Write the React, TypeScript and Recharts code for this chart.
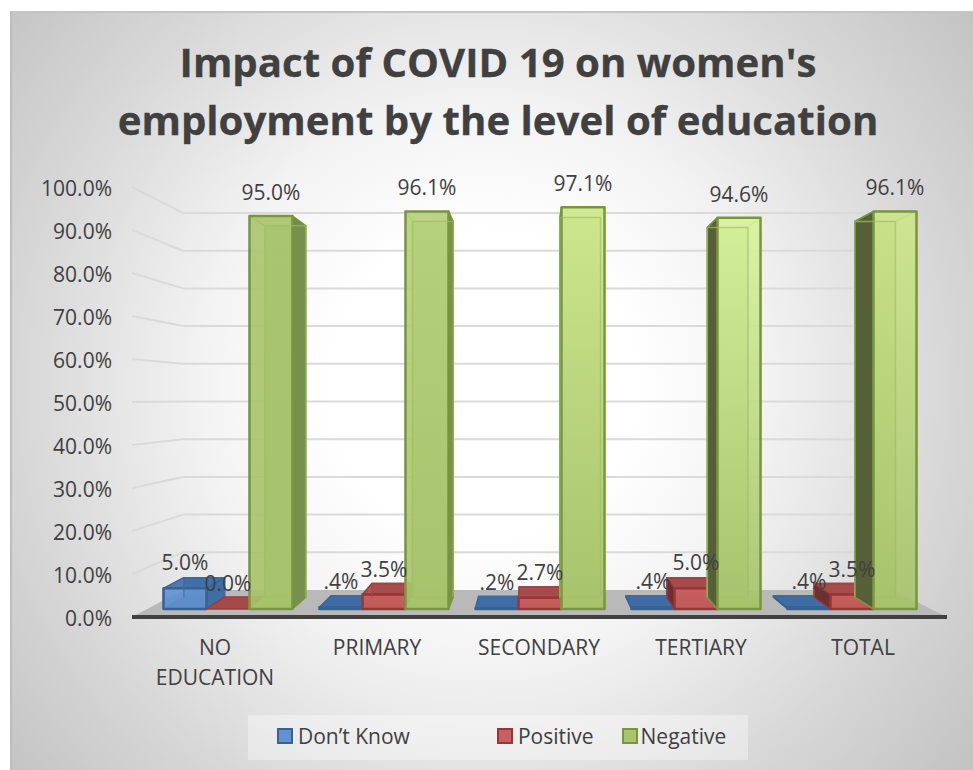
import React from 'react';
import { BarChart, Bar, XAxis, YAxis, LabelList, Legend, ReferenceLine } from 'recharts';

const categories = ['NO EDUCATION', 'PRIMARY', 'SECONDARY', 'TERTIARY', 'TOTAL'];
const dontKnow = [5.0, 0.4, 0.2, 0.4, 0.4];
const positive = [0.0, 3.5, 2.7, 5.0, 3.5];
const negative = [95.0, 96.1, 97.1, 94.6, 96.1];
const percentTicks = [0, 10, 20, 30, 40, 50, 60, 70, 80, 90, 100];

const rows = categories.map((name, i) => ({
  name,
  dontKnow: dontKnow[i],
  positive: positive[i],
  negative: negative[i],
}));

const TEXT = '#404040';
const FONT = '"Open Sans", sans-serif';
const GRID = '#dadada';

// Plot box and the depth model used to fake the 3D columns
const PLOT = { left: 132, right: 947, top: 187, bottom: 617 };
const WALL = { left: 183, right: 893, top: 213, bottom: 590 };
const VANISH_X = 533;
const VANISH_Y = 395;
const DEPTH = 0.945;

const palette = {
  dontKnow: { front: ['#6393cf'], foot: '#5f8ec8', back: '#3f6ea6', side: '#2f5688', sideRight: '#3f6ea6', stroke: '#376296', inner: '#3f6ea6', swatch: '#6393cf', topFill: '#3f6ea6', topOpacity: 0.9 },
  positive: { front: ['#c9605f'], foot: '#c25c5b', back: '#a54a4a', side: '#6c3030', sideRight: '#a54a4a', stroke: '#973634', inner: '#a54a4a', swatch: '#c9605f', topFill: '#a54a4a', topOpacity: 0.9 },
  negative: {
    front: ['#aac570', '#b6d27c', '#cfea8f', '#d8f39d', '#cde58b'],
    foot: '#a7c36c',
    back: '#9ab85f',
    side: '#566038',
    sideRight: '#76904f',
    stroke: '#78963e',
    inner: '#a0bd62',
    swatch: '#a9c46f',
    topFill: '#566038',
    topOpacity: 0.1,
  },
};

const back = (x: number, y: number) => [VANISH_X + DEPTH * (x - VANISH_X), VANISH_Y + DEPTH * (y - VANISH_Y)];
const pts = (list: number[][]) => list.map((p) => p.join(',')).join(' ');

function Column({ x, y, width, height, index, look, id }: any) {
  const x2 = x + width;
  const y2 = y + height;
  const bl = back(x, y2);
  const br = back(x2, y2);
  const tl = back(x, y);
  const tr = back(x2, y);
  const leftOut = bl[0] < x;
  const rightOut = br[0] > x2;
  const front = look.front[index % look.front.length];
  const gradientId = `face-${id}-${index}`;
  return (
    <g strokeLinejoin="round">
      <defs>
        <linearGradient id={gradientId} x1="0" y1={y} x2="0" y2={y2} gradientUnits="userSpaceOnUse">
          <stop offset="0" stopColor={front} />
          <stop offset="1" stopColor={look.foot} />
        </linearGradient>
      </defs>
      <polygon points={pts([tl, tr, br, bl])} fill={look.back} fillOpacity={0.9} stroke={look.inner} strokeWidth={1.5} />
      <polygon points={pts([[x, y2], [x2, y2], br, bl])} fill={look.back} stroke={look.stroke} strokeWidth={1} />
      <polygon points={pts([[x, y], [x, y2], bl, tl])} fill={leftOut ? look.side : 'none'} stroke={leftOut ? look.stroke : look.inner} strokeWidth={1.5} />
      <polygon points={pts([[x2, y], [x2, y2], br, tr])} fill={rightOut ? look.sideRight : 'none'} stroke={rightOut ? look.stroke : look.inner} strokeWidth={1.5} />
      <polygon points={pts([[x, y], [x2, y], tr, tl])} fill={look.topFill} fillOpacity={look.topOpacity} stroke={look.stroke} strokeOpacity={0.6} strokeWidth={1.5} />
      <rect x={x} y={y} width={width} height={height} fill={`url(#${gradientId})`} fillOpacity={0.92} stroke={look.stroke} strokeWidth={2.5} />
      <line x1={tl[0]} y1={tl[1]} x2={tr[0]} y2={tr[1]} stroke={look.inner} strokeWidth={1.5} strokeOpacity={0.6} />
      <line x1={tl[0]} y1={tl[1]} x2={bl[0]} y2={bl[1]} stroke={look.inner} strokeWidth={1.5} strokeOpacity={0.6} />
      <line x1={tr[0]} y1={tr[1]} x2={br[0]} y2={br[1]} stroke={look.inner} strokeWidth={1.5} strokeOpacity={0.6} />
    </g>
  );
}

const formatPercent = (v: number) => (v > 0 && v < 1 ? `${v.toFixed(1).slice(1)}%` : `${v.toFixed(1)}%`);

// Left side wall: a short slanted line from each tick to the back wall
function PercentTick({ x, y, payload }: any) {
  const wallY = WALL.bottom - ((PLOT.bottom - y) * (WALL.bottom - WALL.top)) / (PLOT.bottom - PLOT.top);
  return (
    <g>
      {payload.value > 0 && <line x1={PLOT.left} y1={y} x2={WALL.left} y2={wallY} stroke={GRID} strokeWidth={2} />}
      <text x={x - 12} y={y + 9} textAnchor="end" fontSize={21} fontFamily={FONT} fill={TEXT}>
        {formatPercent(payload.value)}
      </text>
    </g>
  );
}

function CategoryTick({ x, y, payload }: any) {
  return (
    <text textAnchor="middle" fontSize={21} fontFamily={FONT} fill={TEXT}>
      {payload.value.split(' ').map((word: string, i: number) => (
        <tspan key={word} x={x} y={y + 30 + i * 29.5}>{word}</tspan>
      ))}
    </text>
  );
}

const series = [
  { key: 'dontKnow', name: 'Don’t Know', look: palette.dontKnow, labelOffset: 18, legendGap: 29, swatchGap: 5 },
  { key: 'positive', name: 'Positive', look: palette.positive, labelOffset: 18, legendGap: 87, swatchGap: 5 },
  { key: 'negative', name: 'Negative', look: palette.negative, labelOffset: 16, legendGap: 28, swatchGap: 3 },
];

function LegendBox() {
  return (
    <div style={{ display: 'flex', alignItems: 'center', height: 41, paddingBottom: 4, background: 'rgba(255,255,255,0.35)', fontFamily: FONT, fontSize: 21, color: TEXT }}>
      {series.map((s) => (
        <div key={s.key} style={{ display: 'flex', alignItems: 'center', marginLeft: s.legendGap }}>
          <span style={{ width: 12, height: 12, marginRight: s.swatchGap, background: s.look.swatch, border: `2px solid ${s.look.stroke}` }} />
          {s.name}
        </div>
      ))}
    </div>
  );
}

export default function App() {
  return (
    <div style={{ position: 'absolute', left: 0, top: 0, width: 973, height: 770, background: '#fff', overflow: 'hidden' }}>
      <div
        style={{
          position: 'absolute',
          left: 10,
          top: 11,
          width: 963,
          height: 759,
          boxSizing: 'border-box',
          borderLeft: '2px solid #bdbdbd',
          borderTop: '2px solid #c4c4c4',
          background:
            'radial-gradient(circle 610px at 471px 372px, #ffffff 25%, #f3f3f3 46%, #e4e4e4 62%, #d8d8d8 75%, #c4c4c4 100%)',
        }}
      />
      <div
        style={{
          position: 'absolute',
          left: 0,
          top: 33,
          width: 996,
          textAlign: 'center',
          fontFamily: FONT,
          fontWeight: 700,
          fontSize: 40.2,
          lineHeight: '58px',
          color: TEXT,
          WebkitTextStroke: `0.3px ${TEXT}`,
        }}
      >
        Impact of COVID 19 on women's
        <br />
        employment by the level of education
      </div>
      <div style={{ position: 'absolute', left: 0, top: 0 }}>
        <BarChart
          width={973}
          height={770}
          data={rows}
          barSize={43}
          barGap={0}
          margin={{ top: PLOT.top, right: 973 - PLOT.right, bottom: 770 - PLOT.bottom - 60 - 45, left: PLOT.left - 60 }}
        >
          <polygon
            points={pts([[WALL.left, WALL.bottom], [WALL.right, WALL.bottom], [PLOT.right, PLOT.bottom], [PLOT.left, PLOT.bottom]])}
            fill="#b9b9b9"
          />
          <XAxis
            xAxisId="labels"
            dataKey="name"
            height={60}
            interval={0}
            padding={{ left: 2, right: 3 }}
            tick={<CategoryTick />}
            tickLine={false}
            axisLine={{ stroke: '#404040', strokeWidth: 4 }}
          />
          <XAxis xAxisId="columns" dataKey="name" hide height={0} padding={{ left: 17.5, right: 17.5 }} />
          <YAxis
            yAxisId="ticks"
            width={60}
            domain={[0, 100]}
            ticks={percentTicks}
            interval={0}
            allowDataOverflow
            axisLine={false}
            tickLine={false}
            tick={<PercentTick />}
          />
          {/* columns stand further back than the tick labels, so they get their own scale */}
          <YAxis yAxisId="columns" hide width={0} domain={[-1.934, 102.006]} allowDataOverflow />
          <YAxis yAxisId="wall" hide width={0} domain={[-7.162, 106.897]} allowDataOverflow />
          {percentTicks.slice(1).map((t) => (
            <ReferenceLine
              key={t}
              xAxisId="labels"
              yAxisId="wall"
              y={t}
              zIndex={100}
              shape={(p: any) => <line x1={WALL.left} y1={p.y1} x2={WALL.right} y2={p.y2} stroke={GRID} strokeWidth={2} />}
            />
          ))}
          {series.map((s) => (
            <Bar
              key={s.key}
              xAxisId="columns"
              yAxisId="columns"
              dataKey={s.key}
              name={s.name}
              fill={s.look.swatch}
              isAnimationActive={false}
              shape={(p: any) => <Column {...p} look={s.look} id={s.key} />}
            >
              <LabelList
                dataKey={s.key}
                position="top"
                offset={s.labelOffset}
                formatter={formatPercent}
                style={{ fontFamily: FONT, fontSize: 21, fill: TEXT }}
              />
            </Bar>
          ))}
          <Legend
            content={() => <LegendBox />}
            wrapperStyle={{ left: 248, top: 715, bottom: 'auto', width: 500, height: 45 }}
          />
        </BarChart>
      </div>
    </div>
  );
}
